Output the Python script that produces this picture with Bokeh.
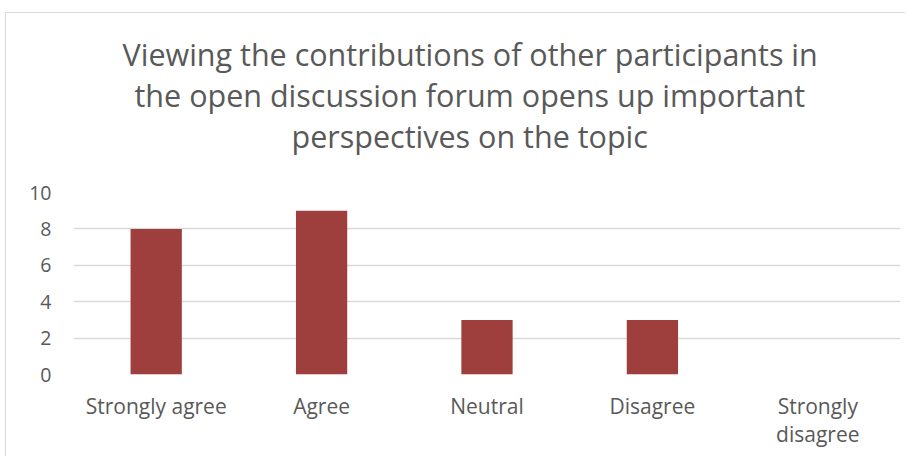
from bokeh.plotting import figure
from bokeh.models import FixedTicker, Range1d, Title
from bokeh.embed import file_html
from bokeh.resources import INLINE

categories = ["Strongly agree", "Agree", "Neutral", "Disagree", "Strongly\ndisagree"]
counts = [8, 9, 3, 3, 0]
y_ticks = [0, 2, 4, 6, 8, 10]
title_lines = ["Viewing the contributions of other participants in",
               "the open discussion forum opens up important",
               "perspectives on the topic"]
title_offsets = [49, 61, 218]

TEXT = "#595959"
GRID = "#d9d9d9"
BAR = "#9e3f3d"
FONT = "Open Sans"

p = figure(x_range=categories, y_range=Range1d(0, 10),
           width=900, height=444,
           min_border_left=67, min_border_right=6,
           min_border_top=179, min_border_bottom=83,
           output_backend="svg", toolbar_location=None)
p.styles = {"margin-left": "5px", "margin-top": "12px",
            "border-left": "1px solid #d9d9d9", "border-top": "1px solid #d9d9d9"}

p.vbar(x=categories, top=counts, width=0.31, fill_color=BAR, line_color=None)

p.title.text = ""
p.add_layout(Title(text=" ", text_font_size="1px", standoff=34), "above")
for line, off in reversed(list(zip(title_lines, title_offsets))):
    t = Title(text=line, align="left", offset=off, text_font=FONT,
              text_font_size="30.5px", text_font_style="normal",
              text_color=TEXT, standoff=-3)
    p.add_layout(t, "above")

p.outline_line_color = None
p.xgrid.grid_line_color = None
p.ygrid.grid_line_color = GRID
p.ygrid.grid_line_width = 1.5

p.yaxis.ticker = FixedTicker(ticks=y_ticks)
p.yaxis.axis_line_color = None
p.yaxis.major_tick_line_color = None
p.yaxis.minor_tick_line_color = None
p.yaxis.major_label_standoff = 16
p.yaxis.major_label_text_font = FONT
p.yaxis.major_label_text_font_size = "19.5px"
p.yaxis.major_label_text_color = TEXT

p.xaxis.axis_line_color = None
p.xaxis.major_tick_line_color = None
p.xaxis.major_label_standoff = 11
p.xaxis.major_label_text_font = FONT
p.xaxis.major_label_text_font_size = "21px"
p.xaxis.major_label_text_color = TEXT
p.xaxis.major_label_text_line_height = 1.0

p.x_range.range_padding = 0

open("out.html", "w").write(file_html(p, INLINE))
